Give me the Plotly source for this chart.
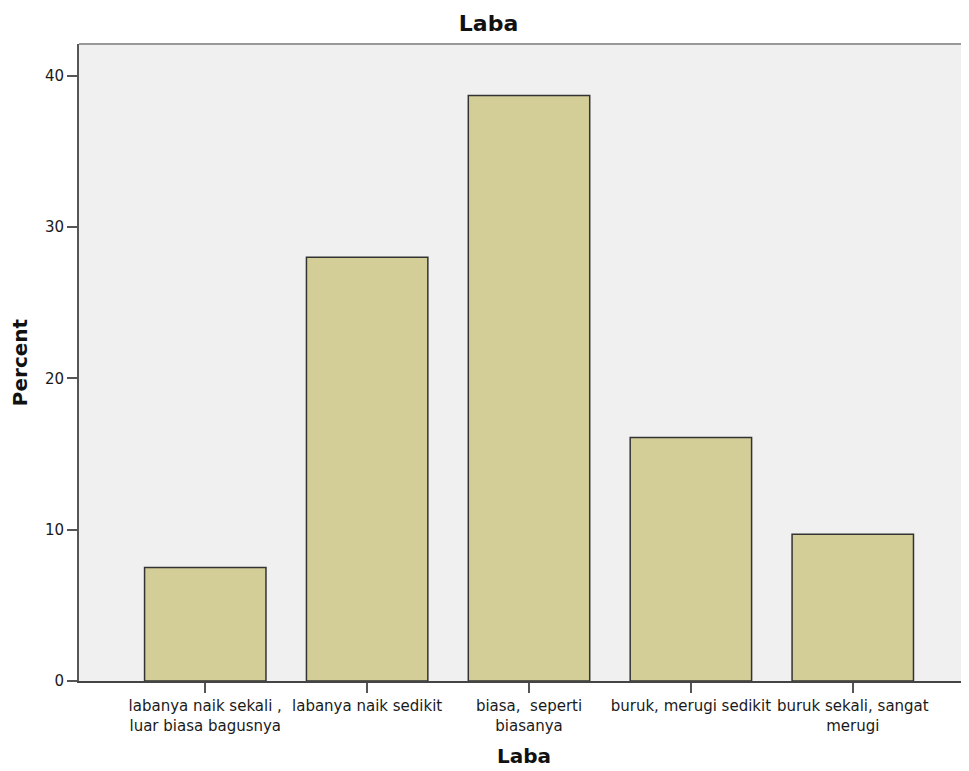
import plotly.graph_objects as go

categories = [
    "labanya naik sekali ,<br>luar biasa bagusnya",
    "labanya naik sedikit",
    "biasa,  seperti<br>biasanya",
    "buruk, merugi sedikit",
    "buruk sekali, sangat<br>merugi",
]
percent = [7.5, 28.0, 38.7, 16.1, 9.7]
y_ticks = [0, 10, 20, 30, 40]

fig = go.Figure()
fig.add_trace(go.Bar(
    x=list(range(len(categories))),
    y=percent,
    width=0.75,
    marker=dict(color="#D3CE98", line=dict(color="#333333", width=1.5)),
    hoverinfo="y",
))

fig.update_layout(
    width=961, height=763,
    margin=dict(l=71, r=0, t=36, b=90),
    paper_bgcolor="white",
    plot_bgcolor="#F0F0F0",
    showlegend=False,
    title=dict(text="<b>Laba</b>", x=0.5, xref="container", xanchor="center",
               y=0.980, yref="container", yanchor="middle",
               font=dict(family="DejaVu Sans", size=22, color="#111111")),
    font=dict(family="DejaVu Sans", color="#222222"),
    xaxis=dict(
        range=[-0.78, 4.718],
        tickmode="array",
        tickvals=list(range(len(categories))),
        ticktext=categories,
        ticks="outside", ticklen=10, tickwidth=2, tickcolor="#555555",
        showline=True, linecolor="#444444", linewidth=2,
        showgrid=False, zeroline=False,
        tickfont=dict(family="DejaVu Sans", size=15, color="#1a1a1a"),
        title=dict(text="<b>Laba</b>", standoff=15,
                   font=dict(family="DejaVu Sans", size=20, color="#111111")),
    ),
    yaxis=dict(
        range=[0, 42.1],
        tickmode="array",
        tickvals=y_ticks,
        ticks="outside", ticklen=10, tickwidth=2, tickcolor="#555555",
        showline=True, linecolor="#555555", linewidth=2,
        showgrid=False, zeroline=False,
        tickfont=dict(family="DejaVu Sans", size=15, color="#1a1a1a"),
        title=dict(text="<b>Percent</b>", standoff=20,
                   font=dict(family="DejaVu Sans", size=20, color="#111111")),
    ),
    shapes=[dict(type="line", xref="paper", yref="paper", x0=0, x1=1, y0=1, y1=1,
                 line=dict(color="#999999", width=2))],
)

fig.write_html("out.html")
